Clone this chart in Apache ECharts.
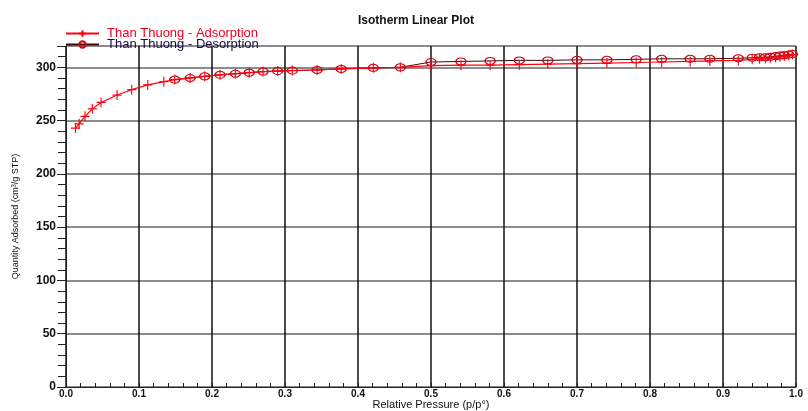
<!DOCTYPE html>
<html>
<head>
<meta charset="utf-8">
<script src="https://cdn.jsdelivr.net/npm/echarts@6/dist/echarts.min.js"></script>
<style>
  html, body { margin: 0; padding: 0; background: #fff; }
  #chart { width: 808px; height: 411px; }
</style>
</head>
<body>
<div id="chart"></div>
<script>
// Adsorption branch: relative pressure and quantity adsorbed (cm³/g STP)
const adsP = [0.013,0.018,0.026,0.036,0.048,0.070,0.090,0.112,0.134,0.149,0.170,0.190,0.211,0.232,0.251,0.270,0.290,0.310,0.344,0.377,0.421,0.458,0.500,0.541,0.581,0.621,0.660,0.700,0.741,0.781,0.816,0.855,0.882,0.921,0.940,0.950,0.958,0.965,0.972,0.978,0.984,0.990,0.995];
const adsQ = [243,247,254,261,267,274,279,283.5,286.5,288.5,290,291.5,293,294,295,296,296.5,297,297.5,298.5,299.5,300,301.5,302,302,302.5,303,303.5,304,304.5,305,305.5,306,306.5,307.5,308,308.5,309,309.5,310,310.5,311,312];

// Desorption branch, measured from high to low pressure
const desP = [0.995,0.990,0.984,0.978,0.972,0.965,0.958,0.950,0.940,0.921,0.882,0.855,0.816,0.781,0.741,0.700,0.660,0.621,0.581,0.541,0.500,0.458,0.421,0.377,0.344,0.310,0.290,0.270,0.251,0.232,0.211,0.190,0.170,0.149];
const desQ = [312.5,312,311.5,311,310.5,310,309.5,309.5,309,308.5,308,308,308,307.5,307,307,306.5,306.5,306,305.5,305,300,299.5,298.5,297.5,297,296.5,296,295,294,293,291.5,290,288.5];

const seriesNames = ['Than Thuong - Adsorption', 'Than Thuong - Desorption'];
const titleText = 'Isotherm Linear Plot';
const xName = 'Relative Pressure (p/p°)';
const yName = 'Quantity Adsorbed (cm³/g STP)';

const pairs = (xs, ys) => xs.map((x, i) => [x, ys[i]]);
const plusPath = 'path://M0,5L10,5M5,0L5,10';

const chart = echarts.init(document.getElementById('chart'), null, { renderer: 'canvas' });
chart.setOption({
  animation: false,
  backgroundColor: '#fff',
  textStyle: { fontFamily: 'Liberation Sans, Arial, sans-serif' },
  title: {
    text: titleText,
    left: 411, top: 10, textAlign: 'center',
    textStyle: { fontSize: 12, fontWeight: 'bold', color: '#111' }
  },
  legend: {
    orient: 'vertical', left: 60, top: 22, itemGap: -2,
    itemWidth: 33, itemHeight: 8,
    textStyle: { fontSize: 13, lineHeight: 11, padding: [0, 0, 0, 3] },
    data: [
      { name: seriesNames[0], textStyle: { color: '#f00020' } },
      { name: seriesNames[1], textStyle: { color: '#1a0a40' } }
    ]
  },
  grid: { left: 66, right: 12, top: 46, bottom: 24, outerBoundsMode: 'none', containLabel: false },
  xAxis: {
    type: 'value', min: 0, max: 1, interval: 0.1,
    name: xName, nameLocation: 'middle', nameGap: 12, nameMoveOverlap: false,
    nameTextStyle: { fontSize: 11, color: '#111' },
    axisLine: { lineStyle: { color: '#222', width: 1 } },
    axisTick: { inside: true, length: 4, lineStyle: { color: '#222' } },
    minorTick: { show: true, splitNumber: 5, length: 4, lineStyle: { color: '#222' } },
    axisLabel: { fontSize: 10, fontWeight: 'bold', color: '#111', margin: 2,
      formatter: v => v.toFixed(1) },
    splitLine: { show: true, lineStyle: { color: '#111', width: 1.5 } }
  },
  yAxis: {
    type: 'value', min: 0, max: 320, interval: 50,
    name: yName, nameLocation: 'middle', nameGap: 46, nameMoveOverlap: false,
    nameTextStyle: { fontSize: 9, color: '#111' },
    axisLine: { lineStyle: { color: '#222', width: 1 } },
    axisTick: { length: 9, lineStyle: { color: '#222' } },
    minorTick: { show: true, splitNumber: 5, length: 8, lineStyle: { color: '#222' } },
    axisLabel: { fontSize: 12, fontWeight: 'bold', color: '#111', margin: 10, showMaxLabel: false },
    splitLine: { show: true, lineStyle: { color: '#666', width: 1.5 } }
  },
  series: [
    {
      name: seriesNames[0], type: 'line', data: pairs(adsP, adsQ),
      symbol: plusPath, symbolSize: [9, 10], showAllSymbol: true,
      lineStyle: { color: '#ff0010', width: 1.2 },
      itemStyle: { color: 'none', borderColor: '#ff0010', borderWidth: 1.2 },
      z: 3
    },
    {
      name: seriesNames[1], type: 'line', data: pairs(desP, desQ),
      symbol: 'circle', symbolSize: [10, 7], showAllSymbol: true,
      lineStyle: { color: '#3a0a0a', width: 1 },
      itemStyle: { color: 'rgba(0,0,0,0)', borderColor: '#d00010', borderWidth: 1.2 },
      z: 2
    }
  ]
});
</script>
</body>
</html>
